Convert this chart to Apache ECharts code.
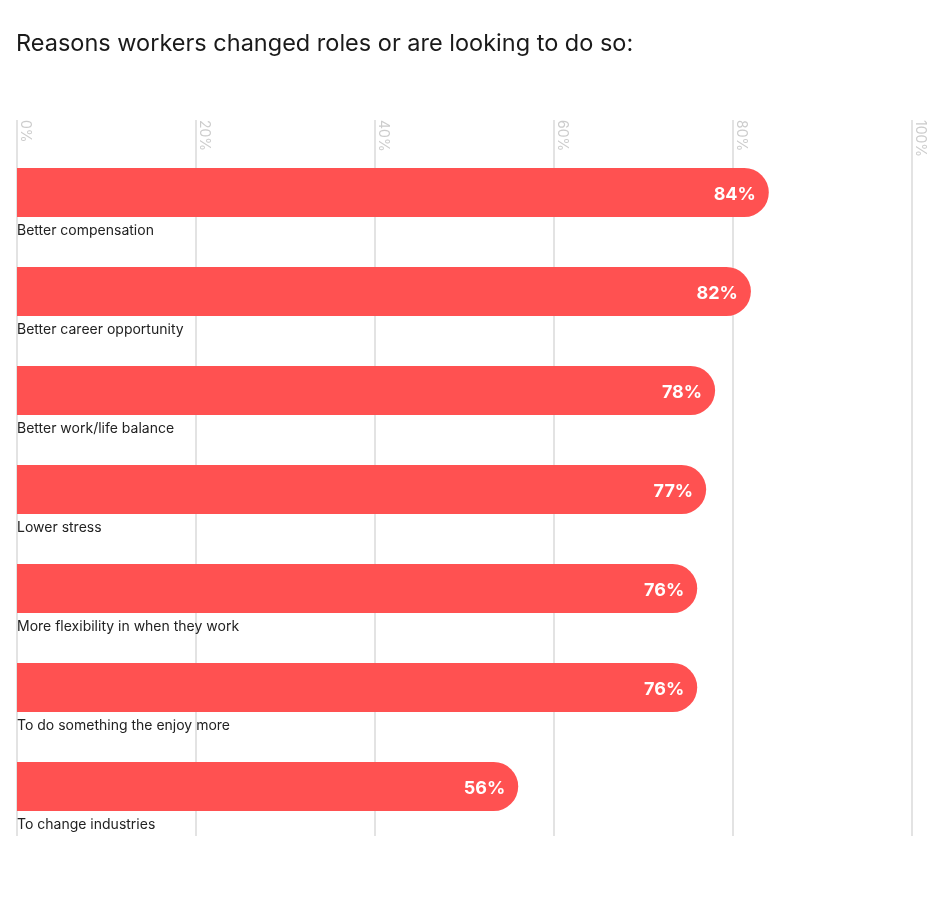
<!DOCTYPE html>
<html>
<head>
<meta charset="utf-8">
<script src="https://cdn.jsdelivr.net/npm/echarts@6/dist/echarts.min.js"></script>
<style>html,body{margin:0;padding:0;background:#fff}#c{width:949px;height:897px}</style>
</head>
<body>
<div id="c"></div>
<script>
const titleText = 'Reasons workers changed roles or are looking to do so:';
const categories = [
  'Better compensation',
  'Better career opportunity',
  'Better work/life balance',
  'Lower stress',
  'More flexibility in when they work',
  'To do something the enjoy more',
  'To change industries'
];
const values = [84, 82, 78, 77, 76, 76, 56];
const tickValues = [0, 20, 40, 60, 80, 100];

const chart = echarts.init(document.getElementById('c'));
const font = 'Inter, Roboto, "Noto Sans", sans-serif';
chart.setOption({
  animation: false,
  backgroundColor: '#fff',
  title: {
    text: titleText,
    left: 11,
    top: 27,
    textStyle: { fontFamily: font, fontSize: 23.5, fontWeight: 'normal', color: '#1a1a1a' }
  },
  grid: { left: 17, right: 37, top: 143, bottom: 61, containLabel: false },
  xAxis: {
    type: 'value',
    position: 'top',
    min: tickValues[0],
    max: tickValues[tickValues.length - 1],
    interval: tickValues[1] - tickValues[0],
    axisLine: { show: false },
    axisTick: { show: true, length: 23, lineStyle: { color: '#e3e3e3', width: 2 } },
    splitLine: { show: true, lineStyle: { color: '#e3e3e3', width: 2 } },
    axisLabel: {
      rotate: 90,
      margin: 23,
      align: 'left',
      verticalAlign: 'bottom',
      padding: [0, 0, 1, 0],
      color: '#cccccc',
      fontFamily: font,
      fontSize: 14,
      formatter: v => v + '%'
    }
  },
  yAxis: {
    type: 'category',
    inverse: true,
    data: categories,
    axisLine: { show: false },
    axisTick: { show: false },
    splitLine: { show: false },
    axisLabel: {
      inside: true,
      margin: 0,
      align: 'left',
      verticalAlign: 'top',
      padding: [31, 0, 0, 0],
      color: '#222',
      fontFamily: font,
      fontSize: 14
    }
  },
  series: [{
    type: 'bar',
    data: values,
    barWidth: 49,
    itemStyle: { color: '#ff5151', borderRadius: [0, 25, 25, 0] },
    label: {
      show: true,
      position: 'insideRight',
      distance: 13,
      color: '#fff',
      fontFamily: font,
      fontWeight: 'bold',
      fontSize: 18,
      offset: [0, 2],
      formatter: p => p.value + '%'
    }
  }]
});
</script>
</body>
</html>
